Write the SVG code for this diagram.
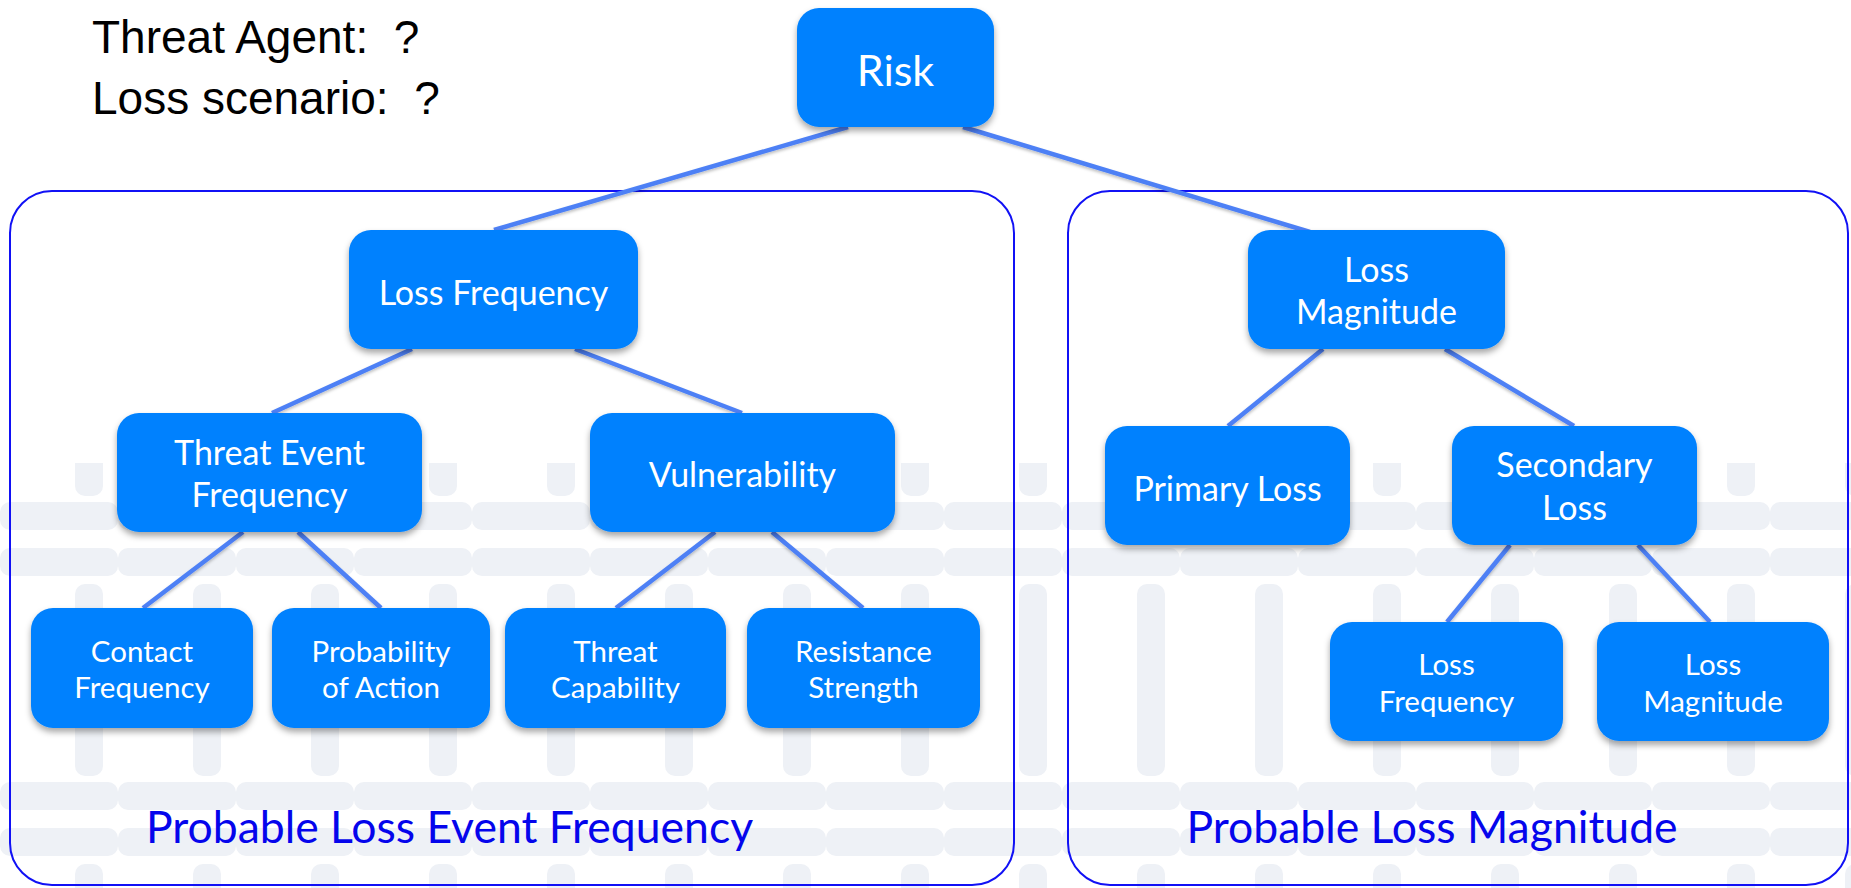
<svg xmlns="http://www.w3.org/2000/svg" width="1851" height="888" viewBox="0 0 1851 888">
  <defs>
    <style>
      .node rect { fill: #0381FE; filter: url(#shadow); }
      .node text { fill: #FFFFFF; font-family: Lato, "Open Sans", "DejaVu Sans", sans-serif; text-anchor: middle; }
      .big { font-size: 34px; }
      .small { font-size: 29.5px; }
      .risk { font-size: 43px; }
      .frame { fill: none; stroke: #1111F5; stroke-width: 2; }
      .conn line { stroke: #4D80F5; stroke-width: 4.5; stroke-linecap: butt; }
      .section { fill: #0505EC; font-family: Lato, "Open Sans", "DejaVu Sans", sans-serif; font-size: 44.5px; text-anchor: middle; }
      .head { fill: #000000; font-family: "Liberation Sans", Arial, sans-serif; font-size: 46px; }
      .wm { fill: #EEF1F6; }
    </style>
    <filter id="shadow" x="-10%" y="-10%" width="120%" height="130%">
      <feDropShadow dx="0" dy="4" stdDeviation="3" flood-color="#000000" flood-opacity="0.35"/>
    </filter>
    <filter id="lshadow" x="-10%" y="-10%" width="120%" height="130%">
      <feDropShadow dx="0" dy="2" stdDeviation="1.5" flood-color="#000000" flood-opacity="0.25"/>
    </filter>
    <pattern id="watermark" patternUnits="userSpaceOnUse" x="0" y="220" width="118" height="280">
      <rect class="wm" x="0" y="2" width="118" height="28" rx="10"/>
      <rect class="wm" x="0" y="48" width="118" height="28" rx="10"/>
      <rect class="wm" x="75" y="84" width="28" height="192" rx="10"/>
    </pattern>
  </defs>

  <rect x="0" y="0" width="1851" height="888" fill="#FFFFFF"/>
  <rect id="watermark-bg" x="0" y="463" width="1851" height="425" fill="url(#watermark)"/>

  <g id="header">
    <text class="head" x="92" y="53" xml:space="preserve">Threat Agent:  ?</text>
    <text class="head" x="92" y="114" xml:space="preserve">Loss scenario:  ?</text>
  </g>

  <g id="frame-lef">
    <rect class="frame" x="10" y="191" width="1004" height="694" rx="42" ry="42"/>
    <text class="section" x="449.5" y="843">Probable Loss Event Frequency</text>
  </g>
  <g id="frame-lm">
    <rect class="frame" x="1068" y="191" width="780" height="694" rx="42" ry="42"/>
    <text class="section" x="1432" y="843">Probable Loss Magnitude</text>
  </g>

  <g id="connectors" class="conn" filter="url(#lshadow)">
    <line x1="848" y1="127" x2="494" y2="230"/>
    <line x1="963" y1="127" x2="1310" y2="232"/>
    <line x1="412" y1="349" x2="272" y2="413"/>
    <line x1="575" y1="349" x2="742" y2="413"/>
    <line x1="243" y1="532" x2="143" y2="608"/>
    <line x1="298" y1="532" x2="381" y2="608"/>
    <line x1="715" y1="532" x2="616" y2="608"/>
    <line x1="772" y1="532" x2="863" y2="608"/>
    <line x1="1323" y1="349" x2="1228" y2="426"/>
    <line x1="1445" y1="349" x2="1574" y2="426"/>
    <line x1="1510" y1="545" x2="1447" y2="622"/>
    <line x1="1638" y1="545" x2="1710" y2="622"/>
  </g>

  <g id="node-risk" class="node">
    <rect x="797" y="8" width="197" height="119" rx="22"/>
    <text class="risk" x="895.5" y="86">Risk</text>
  </g>
  <g id="node-loss-frequency" class="node">
    <rect x="349" y="230" width="289" height="119" rx="22"/>
    <text class="big" x="493.5" y="305">Loss Frequency</text>
  </g>
  <g id="node-threat-event-frequency" class="node">
    <rect x="117" y="413" width="305" height="119" rx="22"/>
    <text class="big" x="269.5" y="465">Threat Event</text>
    <text class="big" x="269.5" y="507">Frequency</text>
  </g>
  <g id="node-vulnerability" class="node">
    <rect x="590" y="413" width="305" height="119" rx="22"/>
    <text class="big" x="742.5" y="487">Vulnerability</text>
  </g>
  <g id="node-contact-frequency" class="node">
    <rect x="31" y="608" width="222" height="120" rx="22"/>
    <text class="small" x="142" y="662">Contact</text>
    <text class="small" x="142" y="698">Frequency</text>
  </g>
  <g id="node-probability-of-action" class="node">
    <rect x="272" y="608" width="218" height="120" rx="22"/>
    <text class="small" x="381" y="662">Probability</text>
    <text class="small" x="381" y="698">of Action</text>
  </g>
  <g id="node-threat-capability" class="node">
    <rect x="505" y="608" width="221" height="120" rx="22"/>
    <text class="small" x="615.5" y="662">Threat</text>
    <text class="small" x="615.5" y="698">Capability</text>
  </g>
  <g id="node-resistance-strength" class="node">
    <rect x="747" y="608" width="233" height="120" rx="22"/>
    <text class="small" x="863.5" y="662">Resistance</text>
    <text class="small" x="863.5" y="698">Strength</text>
  </g>
  <g id="node-loss-magnitude" class="node">
    <rect x="1248" y="230" width="257" height="119" rx="22"/>
    <text class="big" x="1376.5" y="282">Loss</text>
    <text class="big" x="1376.5" y="324">Magnitude</text>
  </g>
  <g id="node-primary-loss" class="node">
    <rect x="1105" y="426" width="245" height="119" rx="22"/>
    <text class="big" x="1227.5" y="501">Primary Loss</text>
  </g>
  <g id="node-secondary-loss" class="node">
    <rect x="1452" y="426" width="245" height="119" rx="22"/>
    <text class="big" x="1574.5" y="477">Secondary</text>
    <text class="big" x="1574.5" y="520">Loss</text>
  </g>
  <g id="node-sec-loss-frequency" class="node">
    <rect x="1330" y="622" width="233" height="119" rx="22"/>
    <text class="small" x="1446.5" y="675">Loss</text>
    <text class="small" x="1446.5" y="712">Frequency</text>
  </g>
  <g id="node-sec-loss-magnitude" class="node">
    <rect x="1597" y="622" width="232" height="119" rx="22"/>
    <text class="small" x="1713" y="675">Loss</text>
    <text class="small" x="1713" y="712">Magnitude</text>
  </g>
</svg>
